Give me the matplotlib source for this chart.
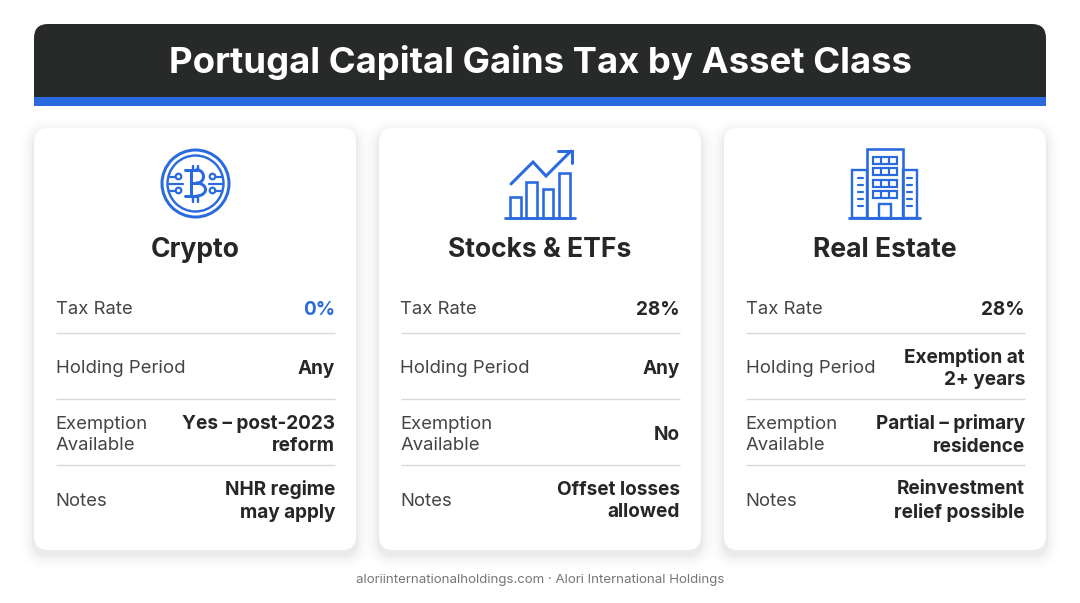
import numpy as np
import matplotlib
matplotlib.use('Agg')
import matplotlib.pyplot as plt
from matplotlib.patches import FancyBboxPatch, Circle, Rectangle

plt.rcParams['font.family'] = ['Inter', 'DejaVu Sans']

title = 'Portugal Capital Gains Tax by Asset Class'
footer = 'aloriinternationalholdings.com · Alori International Holdings'
assets = ['Crypto', 'Stocks & ETFs', 'Real Estate']
row_labels = ['Tax Rate', 'Holding Period', 'Exemption\nAvailable', 'Notes']
crypto_values = ['0%', 'Any', 'Yes – post-2023\nreform', 'NHR regime\nmay apply']
stocks_values = ['28%', 'Any', 'No', 'Offset losses\nallowed']
estate_values = ['28%', 'Exemption at\n2+ years', 'Partial – primary\nresidence', 'Reinvestment\nrelief possible']

BLUE = '#2a6adf'
DARK = '#262626'
GREY = '#444444'
LINE = '#d9d9d9'
HEADER = '#282a2a'
px = 0.72  # points per pixel at dpi 100

fig = plt.figure(figsize=(10.8, 6.03), dpi=100, facecolor='white')
ax = fig.add_axes([0, 0, 1, 1])
ax.set_xlim(0, 1080)
ax.set_ylim(603, 0)
ax.axis('off')


def rbox(x0, y0, x1, y1, r, **kw):
    p = FancyBboxPatch((x0 + r, y0 + r), x1 - x0 - 2 * r, y1 - y0 - 2 * r,
                       boxstyle='round,pad=%f,rounding_size=%f' % (r, r), **kw)
    ax.add_patch(p)
    return p


def line(xs, ys, lw=2.0):
    ax.plot(xs, ys, color=BLUE, lw=lw * px, solid_capstyle='round', solid_joinstyle='miter', zorder=5)


def box(x0, y0, x1, y1, lw=2.4, fc='none'):
    ax.add_patch(Rectangle((x0, y0), x1 - x0, y1 - y0, fc=fc, ec=BLUE, lw=lw * px, zorder=5))


def bitcoin_icon(cx, cy):
    ax.add_patch(Circle((cx, cy), 33.5, fc='none', ec=BLUE, lw=3 * px, zorder=5))
    ax.add_patch(Circle((cx, cy), 28, fc='none', ec=BLUE, lw=2.4 * px, zorder=5))
    # the B
    t = np.linspace(-np.pi / 2, np.pi / 2, 30)
    line(cx + 1 + 7 * np.cos(t), cy - 7 + 6.8 * np.sin(t), 3)
    line(cx + 1 + 9 * np.cos(t), cy + 6 + 6.5 * np.sin(t), 3)
    line([cx - 11, cx + 1], [cy - 13.8, cy - 13.8], 3)
    line([cx - 11, cx + 1], [cy + 12.5, cy + 12.5], 3)
    line([cx - 5, cx + 1], [cy - 0.4, cy - 0.4], 3)
    line([cx - 5, cx - 5], [cy - 13.8, cy + 12.5], 3)
    for dx in (-3, 2):
        line([cx + dx, cx + dx], [cy - 18, cy - 13.8], 2.4)
        line([cx + dx, cx + dx], [cy + 12.5, cy + 18], 2.4)
    # circuit traces
    for s in (-1, 1):
        line([cx + s * 13, cx + s * 27], [cy, cy], 2.2)
        for dy in (-7, 7):
            ax.add_patch(Circle((cx + s * 17, cy + dy), 2.8, fc='white', ec=BLUE, lw=2.2 * px, zorder=6))
            line([cx + s * 20, cx + s * 26], [cy + dy, cy + dy], 2.2)


def chart_icon(cx, cy):
    base = cy + 34
    line([cx - 35, cx + 35], [base, base], 2.8)
    for x0, x1, top in ((-30, -19, 197), (-14, -3, 182), (3, 13, 189), (19, 30, 173)):
        box(cx + x0, top, cx + x1, base, 2.6)
    line([cx - 29, cx - 7, cx + 6, cx + 31], [184, 162, 176, 151], 3)
    line([cx + 18, cx + 32, cx + 32], [151, 151, 163], 3)


def building_icon(cx, cy):
    base = cy + 34
    line([cx - 36, cx + 35], [base, base], 2.8)
    box(cx - 18, 149, cx + 18, base, 2.6)
    box(cx - 33, 170, cx - 18, base, 2.4)
    box(cx + 18, 170, cx + 32, base, 2.4)
    for y0 in (156.5, 168, 179.5, 191):
        box(cx - 12, y0, cx + 12, y0 + 7, 2.2)
        for dx in (-4, 4):
            line([cx + dx, cx + dx], [y0, y0 + 7], 2.2)
    box(cx - 6, 204, cx + 6, base, 2.4)
    for s in (-24.5, 24.5):
        for y0 in (178, 185, 192, 199, 206):
            line([cx + s - 2.5, cx + s + 2.5], [y0, y0], 2.2)


# header
rbox(34, 24, 1046, 100, 14, fc=HEADER, ec='none', zorder=2)
ax.add_patch(Rectangle((34, 80), 1012, 20, fc=HEADER, ec='none', zorder=2))
ax.add_patch(Rectangle((34, 97), 1012, 9, fc=BLUE, ec='none', zorder=3))
ax.text(540, 63, title, color='white', fontsize=36.5 * px, fontweight='bold',
        ha='center', va='center', zorder=4)

cards = [34, 379, 724]
values = [crypto_values, stocks_values, estate_values]
icons = [bitcoin_icon, chart_icon, building_icon]
row_y = [310, 368.5, 435, 501]
sep_y = [333, 399, 465]

for k, x0 in enumerate(cards):
    x1 = x0 + 322
    for grow, a in ((14, 0.008), (10, 0.012), (7, 0.015), (4, 0.02), (2, 0.025)):
        rbox(x0 - grow, 128 - grow + 5, x1 + grow, 550 + grow + 5, 14 + grow, fc='black', ec='none', alpha=a, zorder=1)
    rbox(x0, 128, x1, 550, 14, fc='white', ec='none', zorder=2)
    icons[k](x0 + 161.5 if k == 0 else x0 + 161, 183.5)
    ax.text(x0 + 161, 250, assets[k], color=DARK, fontsize=26.5 * px, fontweight='bold',
            ha='center', va='center', zorder=4)
    for y in sep_y:
        ax.plot([x0 + 22, x0 + 301], [y, y], color=LINE, lw=1.4 * px, solid_capstyle='butt', zorder=3)
    for label, val, y in zip(row_labels, values[k], row_y):
        ax.text(x0 + 21.5, y, label, color=GREY, fontsize=18.5 * px, ha='left', va='center',
                linespacing=1.28, zorder=4)
        ax.text(x0 + 301, y, val, color=BLUE if val == '0%' else DARK, fontsize=19 * px,
                fontweight='bold', ha='right', va='center', multialignment='right',
                linespacing=1.3, zorder=4)

ax.text(540, 580, footer, color='#777777', fontsize=13.3 * px, ha='center', va='center')

fig.savefig('out.png', dpi=100)
